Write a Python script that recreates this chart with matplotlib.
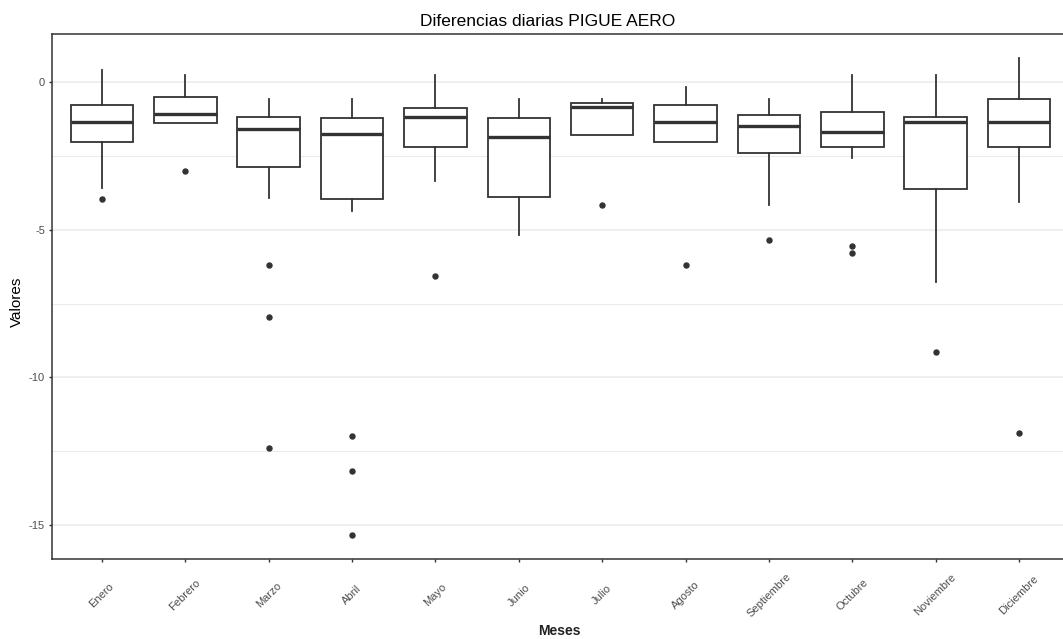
import numpy as np
import matplotlib
matplotlib.use("Agg")
import matplotlib.pyplot as plt
from matplotlib.ticker import MultipleLocator

plt.rcParams['font.family'] = ['Liberation Sans', 'DejaVu Sans']
plt.rcParams['axes.unicode_minus'] = False

# values
meses = ["Enero", "Febrero", "Marzo", "Abril", "Mayo", "Junio",
         "Julio", "Agosto", "Septiembre", "Octubre", "Noviembre", "Diciembre"]
whis_hi = [0.42, 0.24, -0.58, -0.58, 0.24, -0.58, -0.58, -0.17, -0.58, 0.24, 0.24, 0.83]
q3 = [-0.77, -0.50, -1.18, -1.22, -0.86, -1.22, -0.71, -0.77, -1.10, -1.01, -1.18, -0.58]
mediana = [-1.35, -1.08, -1.57, -1.76, -1.16, -1.84, -0.84, -1.35, -1.49, -1.67, -1.36, -1.35]
q1 = [-2.01, -1.37, -2.87, -3.97, -2.19, -3.88, -1.77, -2.01, -2.38, -2.19, -3.61, -2.19]
whis_lo = [-3.58, -1.37, -3.93, -4.35, -3.36, -5.18, -1.77, -2.01, -4.17, -2.57, -6.77, -4.07]
atipicos = [
    [-3.96],
    [-2.99],
    [-6.19, -7.95, -12.39],
    [-11.99, -13.16, -15.35],
    [-6.55],
    [],
    [-4.17],
    [-6.19],
    [-5.36],
    [-5.54, -5.77],
    [-9.15],
    [-11.89],
]

stats = []
for i in range(len(meses)):
    stats.append({
        "whislo": whis_lo[i], "q1": q1[i], "med": mediana[i],
        "q3": q3[i], "whishi": whis_hi[i], "fliers": atipicos[i],
    })

W, H = 1063, 639
fig = plt.figure(figsize=(W / 100, H / 100), dpi=100)
ax = fig.add_axes([52 / W, 1 - 559 / H, 1017 / W, 525 / H])

edge = "#333333"
ax.bxp(stats, positions=np.arange(1, 13), widths=0.75, showcaps=False,
       patch_artist=True,
       boxprops=dict(facecolor="white", edgecolor=edge, linewidth=1.3),
       whiskerprops=dict(color=edge, linewidth=1.3),
       medianprops=dict(color=edge, linewidth=2.4, solid_capstyle="butt"),
       flierprops=dict(marker="o", markersize=3.6, markerfacecolor=edge,
                       markeredgecolor=edge, linestyle="none"),
       zorder=3)

# ggplot-like limits: 5% expansion on y, 0.6 on discrete x
todos = whis_hi + whis_lo + [v for a in atipicos for v in a]
lo, hi = min(todos), max(todos)
pad = 0.05 * (hi - lo)
ax.set_ylim(lo - pad, hi + pad)
ax.set_xlim(0.4, 12.6)

ax.yaxis.set_major_locator(MultipleLocator(5))
ax.yaxis.set_minor_locator(MultipleLocator(2.5))
ax.grid(which="major", axis="y", color="#EBEBEB", linewidth=1.1, zorder=0)
ax.grid(which="minor", axis="y", color="#EBEBEB", linewidth=0.8, zorder=0)
ax.set_axisbelow(True)

ax.set_xticks(np.arange(1, 13))
ax.set_xticklabels(meses, rotation=45, ha="center", va="center")
ax.tick_params(axis="x", which="major", length=2.4, width=1.0, color=edge,
               pad=23.5, labelsize=8, labelcolor="#4D4D4D")
ax.tick_params(axis="y", which="major", length=2.4, width=1.0, color=edge,
               pad=2.7, labelsize=8, labelcolor="#4D4D4D")
ax.tick_params(axis="y", which="minor", length=0)

for lado in ["left", "bottom", "top"]:
    ax.spines[lado].set_color(edge)
    ax.spines[lado].set_linewidth(1.1)
ax.spines["right"].set_visible(False)

fig.text(548 / W, 1 - 26 / H, "Diferencias diarias PIGUE AERO", ha="center",
         va="baseline", fontsize=12.5, color="black")
fig.text(559 / W, 1 - 631 / H, "Meses", ha="center", va="center",
         fontsize=10, fontweight="bold", color="#222222")
fig.text(17 / W, 1 - 302 / H, "Valores", ha="center", va="center",
         rotation=90, fontsize=11, color="black")

fig.savefig("out.png", dpi=100)
